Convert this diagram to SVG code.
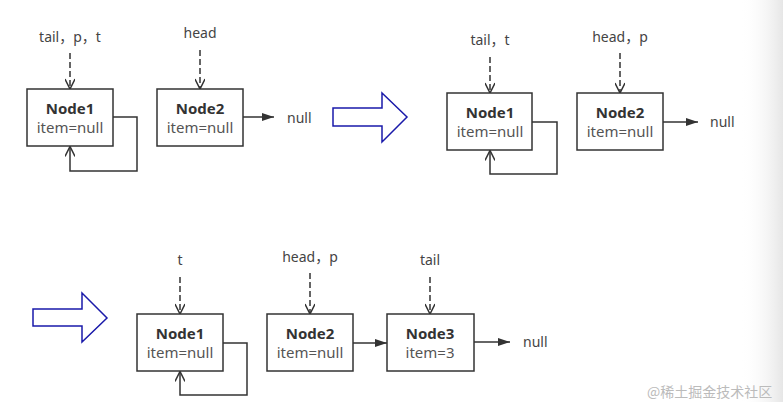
<svg xmlns="http://www.w3.org/2000/svg" width="783" height="402" viewBox="0 0 783 402">
<defs>
<style>
.box{fill:#fff;stroke:#333;stroke-width:1.5}
.title{font-family:"Noto Sans","Liberation Sans",sans-serif;font-weight:bold;font-size:15px;fill:#333;text-anchor:middle}
.item{font-family:"Noto Sans","Liberation Sans",sans-serif;font-size:15px;fill:#555;text-anchor:middle}
.lbl{font-family:"Noto Sans","Noto Sans CJK SC",sans-serif;font-size:14px;fill:#444;text-anchor:middle}
.nul{font-family:"Noto Sans","Liberation Sans",sans-serif;font-size:14px;fill:#444}
.dash{fill:none;stroke:#333;stroke-width:1.5;stroke-dasharray:6 3;marker-end:url(#vopen)}
.solid{fill:none;stroke:#333;stroke-width:1.5;marker-end:url(#tri)}
.loop{fill:none;stroke:#333;stroke-width:1.5;marker-end:url(#vopen)}
.big{fill:#fff;stroke:#1a1aaa;stroke-width:1.5}
</style>
<marker id="vopen" viewBox="0 0 12 10" refX="11" refY="5" markerWidth="12" markerHeight="10" markerUnits="userSpaceOnUse" orient="auto">
<path d="M1,0 L11,5 L1,10" fill="none" stroke="#333" stroke-width="1.5"/>
</marker>
<marker id="tri" viewBox="0 0 12 8" refX="12" refY="4" markerWidth="12" markerHeight="8" markerUnits="userSpaceOnUse" orient="auto">
<path d="M0,0 L12,4 L0,8 Z" fill="#333"/>
</marker>
<linearGradient id="shade" x1="0" y1="0" x2="1" y2="0">
<stop offset="0" stop-color="#fff" stop-opacity="0"/>
<stop offset="1" stop-color="#e6e6e6"/>
</linearGradient>
</defs>
<rect width="783" height="402" fill="#fff"/>
<rect x="740" y="0" width="43" height="402" fill="url(#shade)"/>

<g id="connectors">
<path class="dash" d="M70,53 V89"/>
<path class="dash" d="M200,50 V89"/>
<path class="loop" d="M113,117 H137 V171 H70 V146.5"/>
<path class="solid" d="M243,117 H274"/>
<path class="dash" d="M490,57 V93"/>
<path class="dash" d="M620,53 V93"/>
<path class="loop" d="M532,122 H557 V174 H490 V150.5"/>
<path class="solid" d="M663,122 H698"/>
<path class="dash" d="M180,277 V314"/>
<path class="dash" d="M310,273 V314"/>
<path class="dash" d="M430,277 V314"/>
<path class="loop" d="M223,343 H247 V395 H180 V371.5"/>
<path class="solid" d="M353,343 H387"/>
<path class="solid" d="M474,342 H510"/>
</g>

<g id="step1-arrow"><path class="big" d="M333,108 H382 V93 L407,117 L382,142 V126 H333 Z"/></g>
<g id="step2-arrow"><path class="big" d="M33,309 H82 V293 L107,318 L82,342 V326 H33 Z"/></g>

<g id="labels">
<text class="lbl" x="70" y="42">tail，p，t</text>
<text class="lbl" x="200" y="38">head</text>
<text class="nul" x="287" y="123">null</text>
<text class="lbl" x="490" y="45">tail，t</text>
<text class="lbl" x="620" y="42">head，p</text>
<text class="nul" x="710" y="127">null</text>
<text class="lbl" x="180" y="265">t</text>
<text class="lbl" x="310" y="262">head，p</text>
<text class="lbl" x="430" y="265">tail</text>
<text class="nul" x="523" y="347">null</text>
</g>

<g id="a-node1"><rect class="box" x="27" y="89" width="86" height="57"/><text class="title" x="70" y="114">Node1</text><text class="item" x="70" y="133">item=null</text></g>
<g id="a-node2"><rect class="box" x="157" y="89" width="86" height="57"/><text class="title" x="200" y="114">Node2</text><text class="item" x="200" y="133">item=null</text></g>
<g id="b-node1"><rect class="box" x="447" y="93" width="85" height="57"/><text class="title" x="490" y="118">Node1</text><text class="item" x="490" y="137">item=null</text></g>
<g id="b-node2"><rect class="box" x="577" y="93" width="86" height="57"/><text class="title" x="620" y="118">Node2</text><text class="item" x="620" y="137">item=null</text></g>
<g id="c-node1"><rect class="box" x="137" y="314" width="86" height="57"/><text class="title" x="180" y="339">Node1</text><text class="item" x="180" y="358">item=null</text></g>
<g id="c-node2"><rect class="box" x="267" y="314" width="86" height="57"/><text class="title" x="310" y="339">Node2</text><text class="item" x="310" y="358">item=null</text></g>
<g id="c-node3"><rect class="box" x="387" y="314" width="87" height="57"/><text class="title" x="430" y="339">Node3</text><text class="item" x="430" y="358">item=3</text></g>

<text x="647" y="397" font-family="'Noto Sans CJK SC',sans-serif" font-size="14" fill="#bbb">@稀土掘金技术社区</text>
</svg>
